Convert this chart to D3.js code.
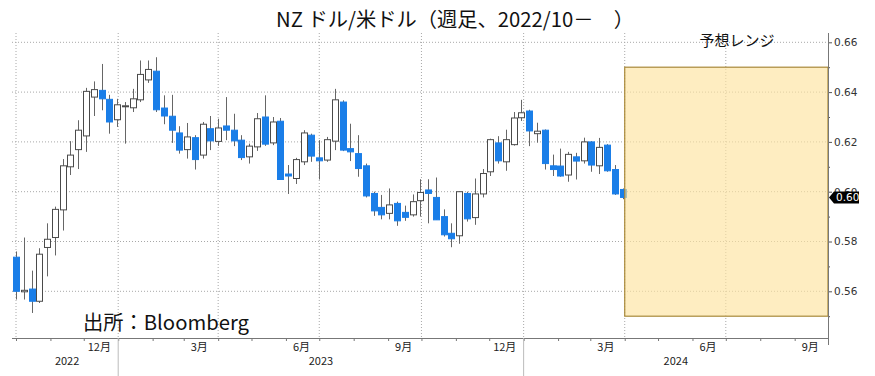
<!DOCTYPE html>
<html><head><meta charset="utf-8">
<script src="https://cdn.jsdelivr.net/npm/d3@7/dist/d3.min.js"></script>
<style>html,body{margin:0;padding:0;background:#fff;}svg{display:block;}</style>
</head><body>
<svg id="chart" width="875" height="376"></svg>
<script>
// ---- data (weekly candles, NZD/USD) ----
const weekStart = "2022-10-01";
const opens = [0.5737,0.5598,0.5609,0.5560,0.5776,0.5816,0.5927,0.6100,0.6169,0.6224,
0.6380,0.6407,0.6371,0.6289,0.6342,0.6337,0.6369,0.6449,0.6484,0.6336,
0.6303,0.6236,0.6169,0.6217,0.6147,0.6253,0.6202,0.6264,0.6247,0.6207,
0.6140,0.6180,0.6300,0.6196,0.6283,0.6071,0.6053,0.6120,0.6227,0.6136,
0.6127,0.6203,0.6360,0.6173,0.6153,0.6104,0.5993,0.5937,0.5913,0.5953,
0.5917,0.5907,0.5964,0.6007,0.5977,0.5900,0.5833,0.5823,0.5993,0.5896,
0.5991,0.6080,0.6196,0.6120,0.6189,0.6297,0.6324,0.6233,0.6247,0.6104,
0.6103,0.6067,0.6140,0.6124,0.6200,0.6104,0.6187,0.6089,0.6009];
const highs = [0.5760,0.5816,0.5683,0.5773,0.5873,0.5940,0.6131,0.6203,0.6287,0.6417,
0.6443,0.6513,0.6389,0.6373,0.6360,0.6413,0.6527,0.6527,0.6540,0.6387,
0.6389,0.6263,0.6276,0.6227,0.6280,0.6304,0.6293,0.6380,0.6313,0.6227,
0.6193,0.6316,0.6387,0.6300,0.6296,0.6107,0.6136,0.6247,0.6233,0.6207,
0.6220,0.6413,0.6367,0.6273,0.6227,0.6113,0.6000,0.5987,0.6013,0.5960,
0.5944,0.5989,0.6050,0.6050,0.6057,0.5929,0.5873,0.6000,0.6000,0.6053,
0.6091,0.6213,0.6223,0.6249,0.6320,0.6369,0.6329,0.6277,0.6250,0.6149,
0.6173,0.6160,0.6156,0.6217,0.6203,0.6216,0.6191,0.6107,0.6013];
const lows = [0.5567,0.5567,0.5513,0.5553,0.5660,0.5744,0.5844,0.6067,0.6091,0.6160,
0.6304,0.6327,0.6233,0.6260,0.6193,0.6320,0.6360,0.6437,0.6320,0.6271,
0.6196,0.6153,0.6133,0.6089,0.6133,0.6167,0.6184,0.6207,0.6183,0.6127,
0.6113,0.6164,0.6184,0.6187,0.6047,0.5991,0.6031,0.6107,0.6120,0.6049,
0.6120,0.6167,0.6163,0.6123,0.6060,0.5977,0.5903,0.5889,0.5889,0.5863,
0.5883,0.5900,0.5900,0.5873,0.5887,0.5820,0.5777,0.5791,0.5880,0.5867,
0.5977,0.6063,0.6113,0.6084,0.6185,0.6284,0.6183,0.6197,0.6089,0.6063,
0.6060,0.6040,0.6049,0.6113,0.6080,0.6071,0.6080,0.5987,0.5970];
const closes = [0.5600,0.5604,0.5560,0.5749,0.5809,0.5929,0.6104,0.6147,0.6247,0.6403,
0.6410,0.6373,0.6280,0.6349,0.6345,0.6373,0.6471,0.6491,0.6329,0.6304,
0.6247,0.6167,0.6220,0.6129,0.6271,0.6204,0.6256,0.6247,0.6204,0.6137,
0.6183,0.6293,0.6191,0.6280,0.6049,0.6063,0.6129,0.6236,0.6143,0.6124,
0.6209,0.6369,0.6167,0.6160,0.6093,0.5983,0.5923,0.5907,0.5947,0.5883,
0.5897,0.5960,0.5997,0.5993,0.5887,0.5827,0.5811,0.6000,0.5891,0.5991,
0.6073,0.6209,0.6124,0.6209,0.6296,0.6317,0.6244,0.6243,0.6113,0.6089,
0.6063,0.6150,0.6123,0.6200,0.6107,0.6178,0.6084,0.5991,0.5977];

const yTicks = [0.56,0.58,0.60,0.62,0.64,0.66];
const yMinorTicks = [0.55,0.57,0.59,0.61,0.63,0.65];
const monthLabels = [["2022-12-15","12月"],["2023-03-15","3月"],["2023-06-15","6月"],["2023-09-15","9月"],
                     ["2023-12-15","12月"],["2024-03-15","3月"],["2024-06-15","6月"],["2024-09-15","9月"]];
const yearLabels = [["2022","2022-10-01","2023-01-01"],["2023","2023-01-01","2024-01-01"],["2024","2024-01-01","2024-10-01"]];
const quarterLines = ["2022-10-01","2023-01-01","2023-04-01","2023-07-01","2023-10-01","2024-01-01","2024-04-01","2024-07-01"];
const forecast = {start:"2024-04-01", end:"2024-10-01", low:0.55, high:0.65, label:"予想レンジ"};
const title = "NZ ドル/米ドル（週足、2022/10－　）";
const source = "出所：Bloomberg";

// ---- build ----
const parse = d3.utcParse("%Y-%m-%d");
const d0 = parse(weekStart);
const candles = opens.map((o,i)=>({date:d3.utcDay.offset(d0,7*i),o,h:highs[i],l:lows[i],c:closes[i]}));

const L=12, R=828, T=33, B=338;
const x = d3.scaleUtc().domain([parse("2022-10-01"), parse("2024-10-01")]).range([16,828]);
const y = d3.scaleLinear().domain([0.56,0.66]).range([291.3,42.3]);

const svg = d3.select("#chart");
const font = "'Noto Sans CJK JP','Noto Sans',sans-serif";

// grid
svg.append("g").selectAll("line").data(yTicks).join("line")
  .attr("x1",L).attr("x2",R).attr("y1",d=>y(d)).attr("y2",d=>y(d))
  .attr("stroke","#a8a8a8").attr("stroke-width",1).attr("stroke-dasharray","1,2");
svg.append("g").selectAll("line").data(quarterLines).join("line")
  .attr("x1",d=>x(parse(d))).attr("x2",d=>x(parse(d))).attr("y1",T).attr("y2",B)
  .attr("stroke","#a8a8a8").attr("stroke-width",1).attr("stroke-dasharray","1,2");

// candles
const cw = 6;
const g = svg.append("g");
g.selectAll("line.wick").data(candles).join("line").attr("class","wick")
  .attr("x1",d=>Math.round(x(d.date))+0.5).attr("x2",d=>Math.round(x(d.date))+0.5)
  .attr("y1",d=>y(d.h)).attr("y2",d=>y(d.l))
  .attr("stroke","#666").attr("stroke-width",1);
g.selectAll("rect.body").data(candles).join("rect").attr("class","body")
  .attr("x",d=>Math.round(x(d.date))-cw/2+0.5)
  .attr("width",cw)
  .attr("y",d=>y(Math.max(d.o,d.c)))
  .attr("height",d=>Math.max(1,Math.abs(y(d.o)-y(d.c))))
  .attr("fill",d=>d.c<d.o?"#1a7ee8":"#fff")
  .attr("stroke",d=>d.c<d.o?"#1a7ee8":"#4a4a4a")
  .attr("stroke-width",1);

// forecast box
svg.append("rect")
  .attr("x",x(parse(forecast.start))).attr("y",y(forecast.high))
  .attr("width",x(parse(forecast.end))-x(parse(forecast.start)))
  .attr("height",y(forecast.low)-y(forecast.high))
  .attr("fill","#fde3a0").attr("fill-opacity",0.65)
  .attr("stroke","#a8893a").attr("stroke-width",1.2);
svg.append("text").attr("x",737).attr("y",46).attr("text-anchor","middle")
  .attr("font-family",font).attr("font-size",15).attr("fill","#111").text(forecast.label);

// right axis
const ax = svg.append("g").attr("transform",`translate(${R},0)`)
  .call(d3.axisRight(y).tickValues(yTicks).tickSize(4).tickPadding(2).tickFormat(d3.format(".2f")));
ax.select(".domain").remove();
ax.selectAll("text").attr("font-family","'DejaVu Sans',sans-serif").attr("font-size",10.5).attr("fill","#333");
ax.selectAll("line").attr("stroke","#555");
svg.append("g").attr("transform",`translate(${R},0)`)
  .call(d3.axisRight(y).tickValues(yMinorTicks).tickSize(2).tickFormat(""))
  .call(a=>a.select(".domain").remove()).selectAll("line").attr("stroke","#555");
svg.append("line").attr("x1",R+0.5).attr("x2",R+0.5).attr("y1",T).attr("y2",345).attr("stroke","#777");

// last price tag
const lastC = closes[closes.length-1];
const ty = y(lastC);
svg.append("path")
  .attr("d",`M${R+1},${ty} L${R+6},${ty-6} L${R+31},${ty-6} L${R+31},${ty+6} L${R+6},${ty+6} Z`)
  .attr("fill","#000");
svg.append("text").attr("x",R+8).attr("y",ty+4).attr("font-family","'DejaVu Sans',sans-serif")
  .attr("font-size",10.5).attr("fill","#fff").text(d3.format(".2f")(lastC));

// bottom axis
svg.append("line").attr("x1",L).attr("x2",R).attr("y1",B+0.5).attr("y2",B+0.5).attr("stroke","#777");
const bx = svg.append("g").attr("transform",`translate(0,${B})`)
  .call(d3.axisBottom(x).ticks(d3.utcMonth.every(1)).tickSize(3).tickFormat(""));
bx.select(".domain").remove();
bx.selectAll("line").attr("stroke","#777");
svg.append("g").selectAll("line").data(["2023-01-01","2024-01-01"]).join("line")
  .attr("x1",d=>x(parse(d))).attr("x2",d=>x(parse(d))).attr("y1",B).attr("y2",376)
  .attr("stroke","#bbb");
svg.append("g").selectAll("text").data(monthLabels).join("text")
  .attr("x",d=>x(parse(d[0]))).attr("y",351).attr("text-anchor","middle")
  .attr("font-family","'Liberation Sans Narrow','Noto Sans CJK JP',sans-serif").attr("font-size",11).attr("fill","#222")
  .text(d=>d[1]);
svg.append("g").selectAll("text").data(yearLabels).join("text")
  .attr("x",d=>(Math.max(L,x(parse(d[1])))+x(parse(d[2])))/2).attr("y",365).attr("text-anchor","middle")
  .attr("font-family","'Liberation Sans Narrow','Noto Sans CJK JP',sans-serif").attr("font-size",11).attr("fill","#222")
  .text(d=>d[0]);

// title & source
svg.append("text").attr("x",455).attr("y",27).attr("text-anchor","middle")
  .attr("font-family",font).attr("font-size",20).attr("fill","#111")
  .attr("textLength",358).attr("lengthAdjust","spacingAndGlyphs").text(title);
svg.append("text").attr("x",83).attr("y",330)
  .attr("font-family",font).attr("font-size",20).attr("fill","#111")
  .attr("textLength",166).attr("lengthAdjust","spacingAndGlyphs").text(source);
</script>
</body></html>
